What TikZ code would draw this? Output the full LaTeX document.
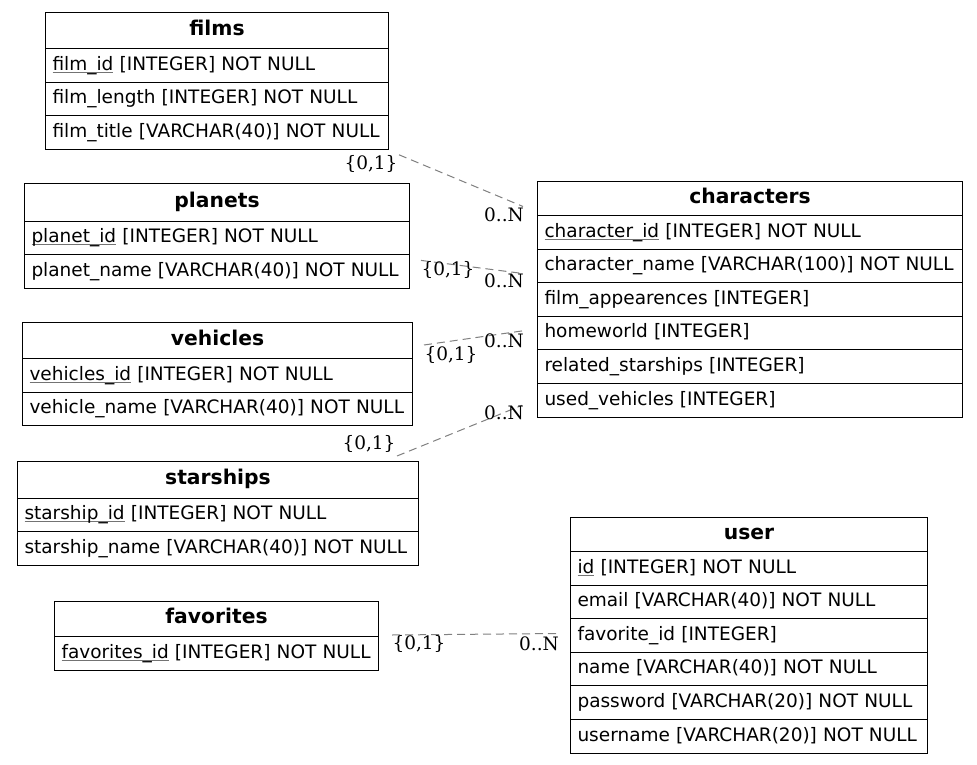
\documentclass[tikz,border=0pt]{standalone}
\usepackage{fontspec}
\setmainfont{DejaVu Sans}
\newfontfamily\cardfamily{DejaVu Serif}
\usetikzlibrary{calc}

\newsavebox\pkbox
\newcommand\pk[1]{\sbox\pkbox{#1}\rlap{\color{black!55}\rule[-2.5pt]{\wd\pkbox}{1pt}}\usebox\pkbox}

\tikzset{
	tbl head/.style={draw, line width=1pt, anchor=north west, inner sep=0pt, text height=15pt, text depth=5.5pt, font=\fontsize{20.3}{24}\selectfont\bfseries},
	tbl row/.style={draw, line width=1pt, anchor=north west, inner ysep=0pt, inner xsep=7pt, align=left, minimum height=33.6pt, text height=14pt, text depth=4.5pt, font=\fontsize{18.5}{22}\selectfont},
	rel/.style={draw=black!50, line width=1pt, dash pattern=on 8pt off 5pt},
	card/.style={inner sep=0pt, font=\fontsize{18.5}{22}\selectfont\cardfamily}
}

% \ertable{name}{x}{y}{width}{head height}{title}{rows}
\def\ertable#1#2#3#4#5#6#7{%
	\node[tbl head, minimum width=#4pt, minimum height=#5pt] (#1-h) at (#2,#3) {#6};
	\pgfmathsetlengthmacro\rowtw{#4pt-14pt}
	\foreach \r [count=\i] in {#7} {
		\node[tbl row, text width=\rowtw] (#1-\i) at (#2, {#3+#5+(\i-1)*33.6}) {\mbox{\r}};
	}
}

\begin{document}
\begin{tikzpicture}[x=1pt, y=-1pt]
		%%%%% START %%%%%
		\useasboundingbox[fill=white] (0,0) rectangle (977,765);
		
		\ertable{films}{45}{12}{343}{36}{films}{\pk{film\_id} [INTEGER] NOT NULL, film\_length [INTEGER] NOT NULL, film\_title [VARCHAR(40)] NOT NULL}
		\ertable{planets}{24}{183}{385}{37.5}{planets}{\pk{planet\_id} [INTEGER] NOT NULL, planet\_name [VARCHAR(40)] NOT NULL}
		\ertable{vehicles}{22}{322}{390}{36}{vehicles}{\pk{vehicles\_id} [INTEGER] NOT NULL, vehicle\_name [VARCHAR(40)] NOT NULL}
		\ertable{starships}{17}{461}{401}{36.5}{starships}{\pk{starship\_id} [INTEGER] NOT NULL, starship\_name [VARCHAR(40)] NOT NULL}
		\ertable{favorites}{54}{601}{324}{35}{favorites}{\pk{favorites\_id} [INTEGER] NOT NULL}
		
		\ertable{characters}{537}{181}{425}{34}{characters}{\pk{character\_id} [INTEGER] NOT NULL, character\_name [VARCHAR(100)] NOT NULL, film\_appearences [INTEGER], homeworld [INTEGER], related\_starships [INTEGER], used\_vehicles [INTEGER]}
		\ertable{user}{570}{517}{357}{34}{user}{\pk{id} [INTEGER] NOT NULL, email [VARCHAR(40)] NOT NULL, favorite\_id [INTEGER], name [VARCHAR(40)] NOT NULL, password [VARCHAR(20)] NOT NULL, username [VARCHAR(20)] NOT NULL}
		
		% relations
		\draw[rel] ($(films-3.south east)+(10,5)$) node[card, xshift=-28pt, yshift=-9pt] {\{0,1\}}
			-- ($(characters-h.west)+(-14,8)$) node[card, xshift=-19pt, yshift=-8pt] {0..N};
		\draw[rel] ($(planets-2.east)+(11,-11)$) node[card, xshift=27pt, yshift=-10pt] {\{0,1\}}
			-- ($(characters-2.west)+(-14,7.6)$) node[card, xshift=-19pt, yshift=-7pt] {0..N};
		\draw[rel] ($(vehicles-h.south east)+(11,-14)$) node[card, xshift=27pt, yshift=-10pt] {\{0,1\}}
			-- ($(characters-4.west)+(-12,-2.6)$) node[card, xshift=-21pt, yshift=-10pt] {0..N};
		\draw[rel] ($(starships-h.north east)+(-22,-5)$) node[card, xshift=-28pt, yshift=12pt] {\{0,1\}}
			-- ($(characters-6.west)+(-15,5)$) node[card, xshift=-18pt, yshift=-7pt] {0..N};
		\draw[rel] ($(favorites-h.south east)+(13,-2)$) node[card, xshift=27pt, yshift=-9pt] {\{0,1\}}
			-- ($(user-3.west)+(-13,-2)$) node[card, xshift=-18pt, yshift=-10pt] {0..N};
		
		%%%%% END %%%%%
	\end{tikzpicture}
\end{document}
